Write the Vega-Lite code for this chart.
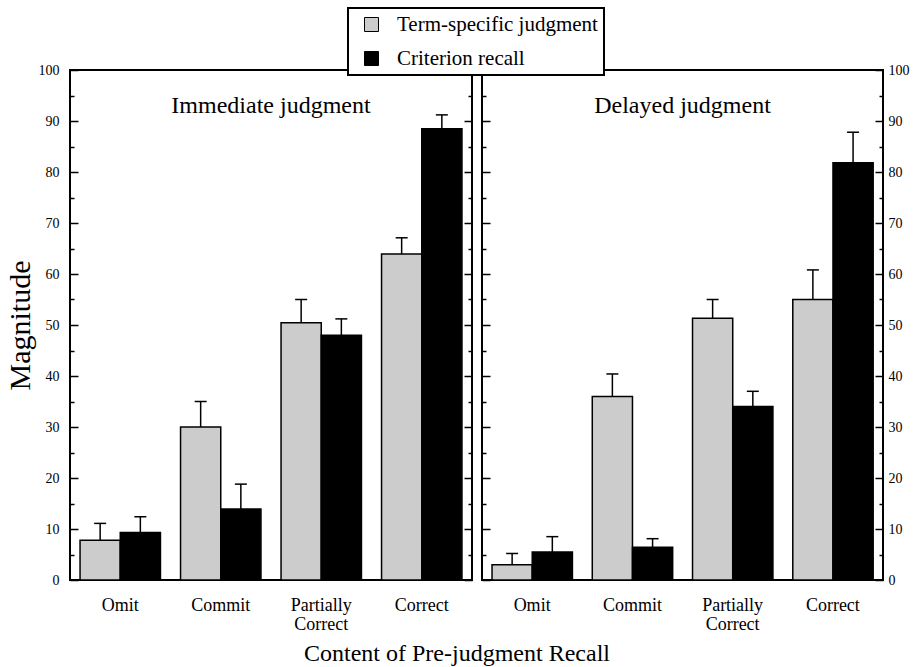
{
  "$schema": "https://vega.github.io/schema/vega-lite/v6.json",
  "background": "white",
  "padding": {"left": 4, "top": 7, "right": 10, "bottom": 5},
  "config": {
    "font": "Liberation Serif",
    "view": {"stroke": "black", "strokeWidth": 2},
    "axis": {"domain": false, "grid": false, "tickColor": "black", "tickWidth": 1.5, "labelColor": "black", "titleColor": "black", "labelFont": "Liberation Serif", "titleFont": "Liberation Serif", "titleFontWeight": "normal"},
    "legend": {"strokeWidth": 2, "labelFont": "Liberation Serif", "labelFontSize": 21, "labelColor": "black"}
  },
  "datasets": {
    "d": [
      {"panel": "Immediate", "group": "Omit", "measure": "Term-specific judgment", "value": 7.8, "upper": 11.1},
      {"panel": "Immediate", "group": "Omit", "measure": "Criterion recall", "value": 9.3, "upper": 12.4},
      {"panel": "Immediate", "group": "Commit", "measure": "Term-specific judgment", "value": 30.0, "upper": 35.0},
      {"panel": "Immediate", "group": "Commit", "measure": "Criterion recall", "value": 13.9, "upper": 18.8},
      {"panel": "Immediate", "group": "Partially Correct", "measure": "Term-specific judgment", "value": 50.45, "upper": 55.0},
      {"panel": "Immediate", "group": "Partially Correct", "measure": "Criterion recall", "value": 48.0, "upper": 51.2},
      {"panel": "Immediate", "group": "Correct", "measure": "Term-specific judgment", "value": 63.9, "upper": 67.1},
      {"panel": "Immediate", "group": "Correct", "measure": "Criterion recall", "value": 88.5, "upper": 91.2},
      {"panel": "Delayed", "group": "Omit", "measure": "Term-specific judgment", "value": 3.0, "upper": 5.2},
      {"panel": "Delayed", "group": "Omit", "measure": "Criterion recall", "value": 5.5, "upper": 8.5},
      {"panel": "Delayed", "group": "Commit", "measure": "Term-specific judgment", "value": 36.0, "upper": 40.4},
      {"panel": "Delayed", "group": "Commit", "measure": "Criterion recall", "value": 6.4, "upper": 8.1},
      {"panel": "Delayed", "group": "Partially Correct", "measure": "Term-specific judgment", "value": 51.3, "upper": 55.0},
      {"panel": "Delayed", "group": "Partially Correct", "measure": "Criterion recall", "value": 34.0, "upper": 37.0},
      {"panel": "Delayed", "group": "Correct", "measure": "Term-specific judgment", "value": 55.0, "upper": 60.8},
      {"panel": "Delayed", "group": "Correct", "measure": "Criterion recall", "value": 81.8, "upper": 87.8}
    ]
  },
  "title": {"text": "Content of Pre-judgment Recall", "orient": "bottom", "anchor": "middle", "fontSize": 24, "fontWeight": "normal", "font": "Liberation Serif", "color": "black", "offset": 8},
  "spacing": 6,
  "hconcat": [
    {
      "width": 402,
      "height": 510,
      "resolve": {"axis": {"y": "independent"}},
      "layer": [
        {
          "data": {"name": "d"},
          "transform": [{"filter": "datum.panel === 'Immediate'"}],
          "mark": {"type": "bar", "stroke": "black", "strokeWidth": 1.5},
          "encoding": {
            "x": {"field": "group", "type": "nominal", "sort": ["Omit", "Commit", "Partially Correct", "Correct"], "scale": {"paddingInner": 0.2, "paddingOuter": 0.1},
                  "axis": {"title": null, "ticks": false, "labelAngle": 0, "labelFontSize": 18, "labelPadding": 16, "labelLineHeight": 19, "labelExpr": "split(datum.label, ' ')"}},
            "xOffset": {"field": "measure", "type": "nominal", "sort": ["Term-specific judgment", "Criterion recall"]},
            "y": {"field": "value", "type": "quantitative", "scale": {"domain": [0, 100], "nice": false},
                  "axis": {"orient": "left", "values": [0, 10, 20, 30, 40, 50, 60, 70, 80, 90, 100], "tickSize": -8, "labelFontSize": 14, "labelPadding": 19, "title": "Magnitude", "titleFontSize": 30, "titlePadding": 3}},
            "color": {"field": "measure", "type": "nominal", "sort": ["Term-specific judgment", "Criterion recall"],
                      "scale": {"domain": ["Term-specific judgment", "Criterion recall"], "range": ["#cccccc", "#000000"]},
                      "legend": {"orient": "none", "legendX": 278, "legendY": -62, "title": null, "fillColor": "white", "strokeColor": "black", "padding": 6, "symbolOffset": 7, "symbolType": "square", "symbolSize": 196, "symbolStrokeColor": "black", "symbolStrokeWidth": 1, "labelFontSize": 21, "labelFont": "Liberation Serif", "labelColor": "black", "labelOffset": 15, "rowPadding": 12, "labelLimit": 400}}
          }
        },
        {
          "data": {"name": "d"},
          "transform": [{"filter": "datum.panel === 'Immediate'"}],
          "mark": {"type": "rule", "stroke": "black", "strokeWidth": 1.5},
          "encoding": {
            "x": {"field": "group", "type": "nominal", "sort": ["Omit", "Commit", "Partially Correct", "Correct"], "scale": {"paddingInner": 0.2, "paddingOuter": 0.1}},
            "xOffset": {"field": "measure", "type": "nominal", "sort": ["Term-specific judgment", "Criterion recall"]},
            "y": {"field": "value", "type": "quantitative", "scale": {"domain": [0, 100], "nice": false},
                  "axis": {"orient": "right", "values": [0, 10, 20, 30, 40, 50, 60, 70, 80, 90, 100], "tickSize": -8, "labels": false, "title": null}},
            "y2": {"field": "upper"}
          }
        },
        {
          "data": {"name": "d"},
          "transform": [{"filter": "datum.panel === 'Immediate'"}],
          "mark": {"type": "tick", "orient": "horizontal", "color": "black", "size": 12, "thickness": 1.5, "opacity": 1},
          "encoding": {
            "x": {"field": "group", "type": "nominal", "sort": ["Omit", "Commit", "Partially Correct", "Correct"], "scale": {"paddingInner": 0.2, "paddingOuter": 0.1}},
            "xOffset": {"field": "measure", "type": "nominal", "sort": ["Term-specific judgment", "Criterion recall"]},
            "y": {"field": "upper", "type": "quantitative", "scale": {"domain": [0, 100], "nice": false},
                  "axis": {"orient": "left", "values": [5, 15, 25, 35, 45, 55, 65, 75, 85, 95], "tickSize": -4, "labels": false, "title": null}}
          }
        },
        {
          "data": {"values": [{"t": "Immediate judgment"}]},
          "mark": {"type": "text", "fontSize": 24, "font": "Liberation Serif", "baseline": "alphabetic", "color": "black"},
          "encoding": {
            "text": {"field": "t"},
            "y": {"datum": 91.5, "type": "quantitative", "scale": {"domain": [0, 100], "nice": false},
                  "axis": {"orient": "right", "values": [5, 15, 25, 35, 45, 55, 65, 75, 85, 95], "tickSize": -4, "labels": false, "title": null}}
          }
        }
      ]
    },
    {
      "width": 401,
      "height": 510,
      "resolve": {"axis": {"y": "independent"}},
      "layer": [
        {
          "data": {"name": "d"},
          "transform": [{"filter": "datum.panel === 'Delayed'"}],
          "mark": {"type": "bar", "stroke": "black", "strokeWidth": 1.5},
          "encoding": {
            "x": {"field": "group", "type": "nominal", "sort": ["Omit", "Commit", "Partially Correct", "Correct"], "scale": {"paddingInner": 0.2, "paddingOuter": 0.1},
                  "axis": {"title": null, "ticks": false, "labelAngle": 0, "labelFontSize": 18, "labelPadding": 16, "labelLineHeight": 19, "labelExpr": "split(datum.label, ' ')"}},
            "xOffset": {"field": "measure", "type": "nominal", "sort": ["Term-specific judgment", "Criterion recall"]},
            "y": {"field": "value", "type": "quantitative", "scale": {"domain": [0, 100], "nice": false},
                  "axis": {"orient": "right", "values": [0, 10, 20, 30, 40, 50, 60, 70, 80, 90, 100], "tickSize": -8, "labelFontSize": 14, "labelPadding": 13, "title": null}},
            "color": {"field": "measure", "type": "nominal", "sort": ["Term-specific judgment", "Criterion recall"],
                      "scale": {"domain": ["Term-specific judgment", "Criterion recall"], "range": ["#cccccc", "#000000"]},
                      "legend": {"orient": "none", "legendX": 278, "legendY": -62, "title": null, "fillColor": "white", "strokeColor": "black", "padding": 6, "symbolOffset": 7, "symbolType": "square", "symbolSize": 196, "symbolStrokeColor": "black", "symbolStrokeWidth": 1, "labelFontSize": 21, "labelFont": "Liberation Serif", "labelColor": "black", "labelOffset": 15, "rowPadding": 12, "labelLimit": 400}}
          }
        },
        {
          "data": {"name": "d"},
          "transform": [{"filter": "datum.panel === 'Delayed'"}],
          "mark": {"type": "rule", "stroke": "black", "strokeWidth": 1.5},
          "encoding": {
            "x": {"field": "group", "type": "nominal", "sort": ["Omit", "Commit", "Partially Correct", "Correct"], "scale": {"paddingInner": 0.2, "paddingOuter": 0.1}},
            "xOffset": {"field": "measure", "type": "nominal", "sort": ["Term-specific judgment", "Criterion recall"]},
            "y": {"field": "value", "type": "quantitative", "scale": {"domain": [0, 100], "nice": false},
                  "axis": {"orient": "left", "values": [0, 10, 20, 30, 40, 50, 60, 70, 80, 90, 100], "tickSize": -8, "labels": false, "title": null}},
            "y2": {"field": "upper"}
          }
        },
        {
          "data": {"name": "d"},
          "transform": [{"filter": "datum.panel === 'Delayed'"}],
          "mark": {"type": "tick", "orient": "horizontal", "color": "black", "size": 12, "thickness": 1.5, "opacity": 1},
          "encoding": {
            "x": {"field": "group", "type": "nominal", "sort": ["Omit", "Commit", "Partially Correct", "Correct"], "scale": {"paddingInner": 0.2, "paddingOuter": 0.1}},
            "xOffset": {"field": "measure", "type": "nominal", "sort": ["Term-specific judgment", "Criterion recall"]},
            "y": {"field": "upper", "type": "quantitative", "scale": {"domain": [0, 100], "nice": false},
                  "axis": {"orient": "left", "values": [5, 15, 25, 35, 45, 55, 65, 75, 85, 95], "tickSize": -4, "labels": false, "title": null}}
          }
        },
        {
          "data": {"values": [{"t": "Delayed judgment"}]},
          "mark": {"type": "text", "fontSize": 24, "font": "Liberation Serif", "baseline": "alphabetic", "color": "black"},
          "encoding": {
            "text": {"field": "t"},
            "y": {"datum": 91.5, "type": "quantitative", "scale": {"domain": [0, 100], "nice": false},
                  "axis": {"orient": "right", "values": [5, 15, 25, 35, 45, 55, 65, 75, 85, 95], "tickSize": -4, "labels": false, "title": null}}
          }
        }
      ]
    }
  ]
}
